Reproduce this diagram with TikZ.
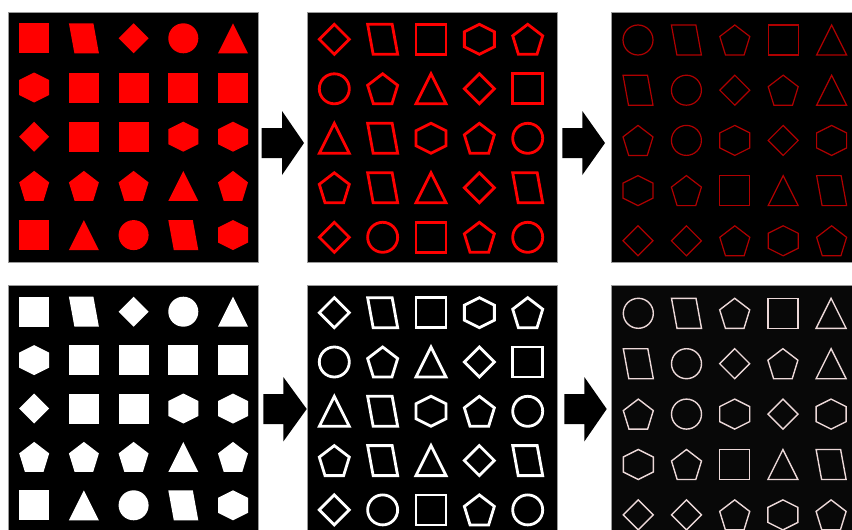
\documentclass[tikz,border=0pt]{standalone}
\usepackage{tikz}
\definecolor{dkred}{HTML}{B00000}
\definecolor{pinkw}{HTML}{ECD8D8}
\definecolor{bordergray}{HTML}{9A9A9A}
\definecolor{nearblack}{HTML}{080808}
\tikzset{
  fillR/.style={fill=red},
  outR/.style={draw=red,line width=2.8pt},
  thinR/.style={draw=dkred,line width=1.2pt},
  fillW/.style={fill=white},
  outW/.style={draw=white,line width=2.8pt},
  thinW/.style={draw=pinkw,line width=1.4pt},
  panelbox/.style={fill=black,draw=bordergray,line width=0.8pt},
  blockarrow/.style={fill=black}
}
\newcommand\Gsq{(-15,-15) rectangle (15,15)}
\newcommand\Gci{(0,0) circle[radius=15]}
\newcommand\Gtr{(0,-15) -- (15,15) -- (-15,15) -- cycle}
\newcommand\Gdi{(0,-15) -- (15,0) -- (0,15) -- (-15,0) -- cycle}
\newcommand\Gpe{(0,-15) -- (15,-3.5) -- (9.3,15) -- (-9.3,15) -- (-15,-3.5) -- cycle}
\newcommand\Ghe{(0,-15) -- (15,-7.5) -- (15,7.5) -- (0,15) -- (-15,7.5) -- (-15,-7.5) -- cycle}
\newcommand\Gpa{(-15,-15) -- (9.5,-15) -- (15,15) -- (-9.5,15) -- cycle}
% #1 x0, #2 dx, #3 y0, #4 dy, #5 shapes (macro), #6 style
\newcommand\panelgrid[6]{%
  \foreach [count=\i from 0] \s in #5 {%
    \pgfmathtruncatemacro\cc{mod(\i,5)}%
    \pgfmathtruncatemacro\rr{div(\i,5)}%
    \pgfmathsetmacro\px{#1+\cc*#2}%
    \pgfmathsetmacro\py{#3+\rr*#4}%
    \expandafter\let\expandafter\curshape\csname G\s\endcsname
    \path[#6,shift={(\px,\py)}] \curshape;
  }%
}
\newcommand\shapesA{sq,pa,di,ci,tr,he,sq,sq,sq,sq,di,sq,sq,he,he,pe,pe,pe,tr,pe,sq,tr,ci,pa,he}
\newcommand\shapesB{di,pa,sq,he,pe,ci,pe,tr,di,sq,tr,pa,he,pe,ci,pe,pa,tr,di,pa,di,ci,sq,pe,ci}
\newcommand\shapesC{ci,pa,pe,sq,tr,pa,ci,di,pe,tr,pe,ci,he,di,he,he,pe,sq,tr,pa,di,di,pe,he,pe}
\begin{document}
\begin{tikzpicture}[x=1pt,y=-1pt]
\useasboundingbox (0,0) rectangle (852,530);
\clip (0,0) rectangle (852,530);
\fill[white] (0,0) rectangle (852,530);
% panels
\path[panelbox] (8.3,12.3) rectangle (258.7,262.3);
\path[panelbox] (307.3,12.3) rectangle (557,262.3);
\path[panelbox] (611,12.3) rectangle (854,262.3);
\path[panelbox] (8.3,285) rectangle (258.7,540);
\path[panelbox] (307.3,285) rectangle (557,540);
\path[panelbox,fill=nearblack] (611,285) rectangle (854,540);
% arrows
\path[blockarrow] (261.5,128) -- (282,128) -- (282,111) -- (304,143) -- (282,175) -- (282,158) -- (261.5,158) -- cycle;
\path[blockarrow] (562.3,128) -- (582.3,128) -- (582.3,111) -- (605,143) -- (582.3,175) -- (582.3,158) -- (562.3,158) -- cycle;
\path[blockarrow] (263.3,394) -- (283.3,394) -- (283.3,377) -- (306.7,409) -- (283.3,441.5) -- (283.3,424) -- (263.3,424) -- cycle;
\path[blockarrow] (564.3,394) -- (584.3,394) -- (584.3,377) -- (606.7,409) -- (584.3,441.5) -- (584.3,424) -- (564.3,424) -- cycle;
% shapes
\panelgrid{34.2}{49.7}{38.3}{49.2}{\shapesA}{fillR}
\panelgrid{334.3}{48.35}{39.3}{49.5}{\shapesB}{outR}
\panelgrid{638}{48.4}{40}{50.2}{\shapesC}{thinR}
\panelgrid{34.2}{49.7}{311.7}{48.4}{\shapesA}{fillW}
\panelgrid{334.3}{48.35}{312.7}{49.3}{\shapesB}{outW}
\panelgrid{638.3}{48.2}{313.3}{50.4}{\shapesC}{thinW}
\end{tikzpicture}
\end{document}
